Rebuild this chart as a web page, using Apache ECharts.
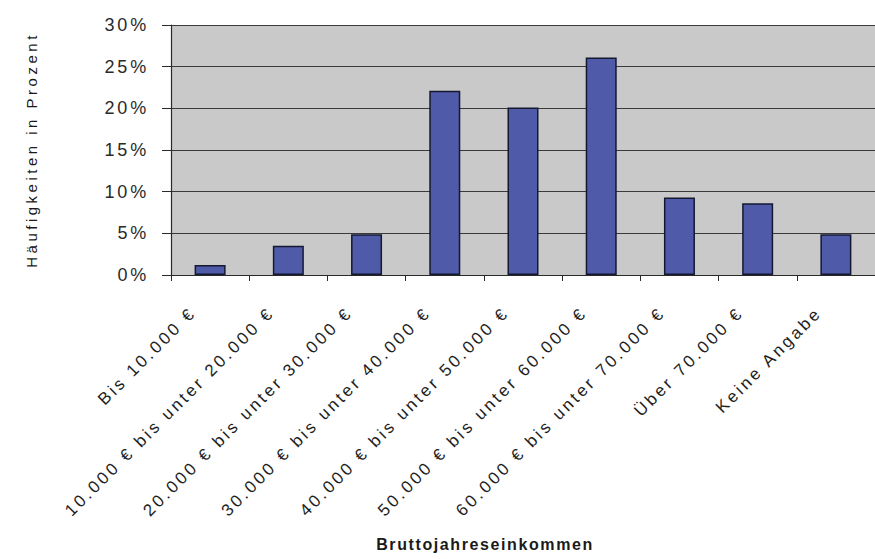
<!DOCTYPE html>
<html>
<head>
<meta charset="utf-8">
<script src="https://cdn.jsdelivr.net/npm/echarts@6/dist/echarts.min.js"></script>
<style>
  html, body { margin: 0; padding: 0; background: #ffffff; }
  #chart { width: 875px; height: 559px; }
</style>
</head>
<body>
<div id="chart"></div>
<script>
const categories = [
  'Bis 10.000 €',
  '10.000 € bis unter 20.000 €',
  '20.000 € bis unter 30.000 €',
  '30.000 € bis unter 40.000 €',
  '40.000 € bis unter 50.000 €',
  '50.000 € bis unter 60.000 €',
  '60.000 € bis unter 70.000 €',
  'Über 70.000 €',
  'Keine Angabe'
];
const values = [1.2, 3.5, 4.9, 22.1, 20.1, 26.1, 9.3, 8.6, 4.9];
const yTicks = { min: 0, max: 30, interval: 5 };
const yTitle = 'Häufigkeiten in Prozent';
const xTitle = 'Bruttojahreseinkommen';

const chart = echarts.init(document.getElementById('chart'), null, { renderer: 'svg' });
chart.setOption({
  animation: false,
  backgroundColor: '#ffffff',
  grid: {
    left: 171, top: 25, bottom: 284, right: -8,
    show: true, backgroundColor: '#c9c9c9', borderWidth: 0,
    containLabel: false
  },
  xAxis: {
    type: 'category',
    data: categories,
    boundaryGap: true,
    name: xTitle,
    nameLocation: 'middle',
    nameGap: 261,
    nameTextStyle: {
      fontFamily: 'Arial, Liberation Sans, sans-serif',
      fontSize: 16, fontWeight: 'bold', color: '#1a1a1a',
      padding: [0, 76, 0, 0]
    },
    axisLine: { show: true, lineStyle: { color: '#2a2a2a', width: 1.2 } },
    axisTick: { show: true, length: 6, alignWithLabel: false, lineStyle: { color: '#2a2a2a', width: 1 } },
    axisLabel: {
      interval: 0, rotate: 45, margin: 18,
      fontFamily: 'Arial, Liberation Sans, sans-serif',
      fontSize: 17, color: '#1e1e1e',
      padding: [0, 24, 0, 0]
    },
    splitLine: { show: false }
  },
  yAxis: {
    type: 'value',
    min: yTicks.min, max: yTicks.max, interval: yTicks.interval,
    name: yTitle,
    nameLocation: 'middle',
    nameGap: 132,
    nameTextStyle: {
      fontFamily: 'Arial, Liberation Sans, sans-serif',
      fontSize: 15, color: '#1a1a1a'
    },
    axisLine: { show: true, lineStyle: { color: '#2a2a2a', width: 1.2 } },
    axisTick: { show: true, length: 9, lineStyle: { color: '#2a2a2a', width: 1 } },
    axisLabel: {
      formatter: '{value}%', margin: 22,
      fontFamily: 'Arial, Liberation Sans, sans-serif',
      fontSize: 18, color: '#2a2a2a'
    },
    splitLine: { show: true, lineStyle: { color: '#3a3a3a', width: 1.2 } }
  },
  series: [{
    type: 'bar',
    data: values,
    barWidth: 31,
    itemStyle: { color: '#4f5ba8', borderColor: '#141830', borderWidth: 1.5 }
  }]
});

function spaceLetters() {
  document.querySelectorAll('#chart svg text').forEach(function (t) {
    const s = t.textContent;
    let ls = 3;
    if (s === xTitle) ls = 1.6;
    else if (s === yTitle) ls = 3.5;
    else if (s.indexOf('%') >= 0) ls = 2.8;
    t.setAttribute('letter-spacing', ls + 'px');
  });
}
spaceLetters();
chart.on('finished', spaceLetters);
</script>
</body>
</html>
